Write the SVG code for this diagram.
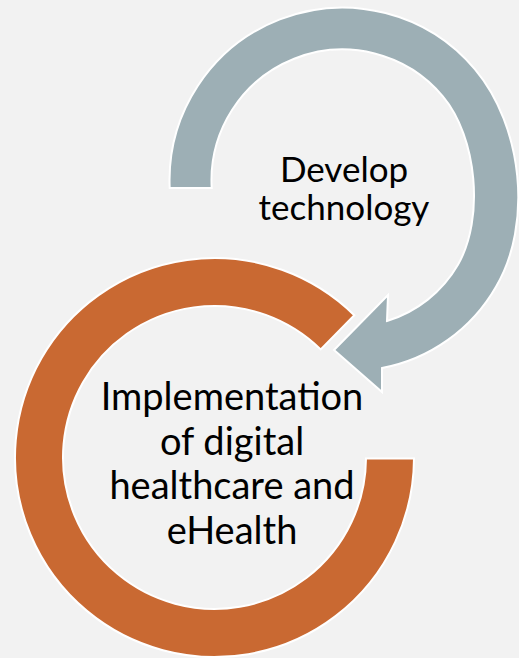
<svg xmlns="http://www.w3.org/2000/svg" width="519" height="658" viewBox="0 0 519 658">
<style>
.shape{stroke:#ffffff;stroke-width:2;stroke-linejoin:miter}
.gray{fill:#9dafb5}
.orange{fill:#c96932}
.lbl{font-family:Lato,"Open Sans","Liberation Sans",sans-serif;fill:#000000;text-anchor:middle}
</style>
<rect x="0" y="0" width="519" height="658" fill="#f2f2f2"/>
<g id="implementation">
<path class="shape orange" d="M 414,458.5 A 199.5 199.5 0 1 1 354.3,315.2 L 320.7,349.4 A 151.5 151.5 0 1 0 366,458.5 Z"/>
<text class="lbl" font-size="38"><tspan x="232" y="410">Implementation</tspan><tspan x="232" y="455">of digital</tspan><tspan x="232" y="499">healthcare and</tspan><tspan x="232" y="544">eHealth</tspan></text>
</g>
<g id="develop">
<path class="shape gray" d="M 169.7,188 A 173 173 0 0 1 475,69.3 C 522.6,126 533,224 496,286.7 A 167.4 167.4 0 0 1 382,368 L 382,392 L 334,350 L 388,295 L 387,321 A 123.5 123.5 0 0 0 457.95,264.75 C 484.6,218.6 477.1,137.1 442.85,96.3 A 131 131 0 0 0 211.7,188 Z"/>
<text class="lbl" font-size="35"><tspan x="344" y="182">Develop</tspan><tspan x="344" y="220">technology</tspan></text>
</g>
<g id="connectors"></g>
</svg>
